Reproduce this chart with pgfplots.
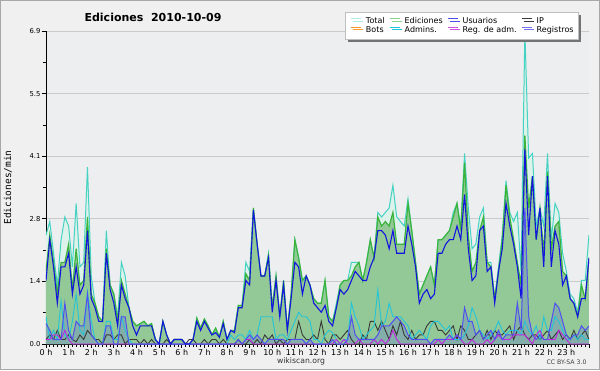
\documentclass[border=0pt]{standalone}
\usepackage{pgfplots}
\pgfplotsset{compat=1.18}
\usepackage{pgfplotstable}
\usepackage{fontspec}
\setmainfont{DejaVu Sans}
\newfontfamily\monofont{DejaVu Sans Mono}
\usetikzlibrary{shadows}
\definecolor{bgcol}{HTML}{F0F0F0}
\definecolor{plotbg}{HTML}{EDEEF0}
\definecolor{framecol}{HTML}{A8A8A8}
\definecolor{gridcol}{HTML}{CACACA}
\definecolor{totcol}{HTML}{44D2C2}
\definecolor{totfill}{HTML}{DCF2EA}
\definecolor{edcol}{HTML}{3CB43C}
\definecolor{edfill}{HTML}{92C996}
\definecolor{usrcol}{HTML}{1414E0}
\definecolor{ipcol}{HTML}{383838}
\definecolor{botcol}{HTML}{FF9A2A}
\definecolor{admcol}{HTML}{22C4DA}
\definecolor{racol}{HTML}{C424E0}
\definecolor{regcol}{HTML}{5050F0}

\pgfplotstableread{
i T E U IP A RA R
0 2.4 1.6 1.4 0.1 0.6 0.1 0.45
1 2.7 2.4 2.3 0.2 0.1 0.1 0.3
2 2.0 1.8 1.7 0.1 0.3 0.2 0.1
3 1.3 1.1 0.9 0.3 0.1 0.2 0.1
4 2.3 1.8 1.7 0.1 0.95 0.1 0.1
5 2.8 1.8 1.7 0.1 0.2 0.3 0.9
6 2.6 2.2 2.0 0.2 0.1 0.1 0.3
7 1.7 1.2 1.1 0.1 0.5 0 0.1
8 3.1 2.1 1.7 0.05 1.1 0 0.5
9 1.7 1.3 1.1 0.2 0.3 0 0.4
10 1.8 1.4 1.3 0.1 0.2 0 0.4
11 3.9 2.8 2.5 0.3 1.15 0 1.1
12 1.5 1.1 1.0 0.2 0.5 0 0.2
13 0.9 0.9 0.8 0.1 0.1 0 0.1
14 0.6 0.6 0.5 0.1 0 0 0
15 0.5 0.5 0.5 0 0 0 0
16 2.5 2.1 2.0 0.2 0.5 0 0.4
17 1.3 1.3 1.2 0.2 0.5 0 0.4
18 1.1 1.1 0.9 0.1 0.1 0 0
19 0.6 0.5 0.4 0.2 0.1 0 0
20 1.8 1.4 1.3 0.2 0.6 0 0.6
21 1.5 1.1 1.0 0 0.3 0 0.6
22 0.8 0.8 0.8 0.1 0.1 0 0
23 0.5 0.5 0.4 0.1 0 0 0
24 0.4 0.4 0.2 0.1 0 0 0
25 0.45 0.45 0.4 0 0 0 0
26 0.5 0.5 0.4 0.1 0 0 0
27 0.4 0.4 0.4 0 0 0 0
28 0.45 0.45 0.4 0.1 0 0 0
29 0.1 0.1 0.1 0 0 0 0
30 0 0 0 0 0 0 0
31 0.5 0.5 0.5 0 0 0 0
32 0.2 0.2 0.2 0.1 0 0 0
33 0 0 0 0 0 0 0
34 0.1 0.1 0.1 0.1 0 0 0
35 0.1 0.1 0.1 0.1 0 0 0
36 0.1 0.1 0.1 0.1 0 0 0
37 0 0 0 0 0 0 0
38 0 0 0 0.1 0 0 0
39 0.1 0.1 0.1 0.1 0 0 0
40 0.57 0.57 0.5 0 0 0 0
41 0.35 0.35 0.3 0 0 0 0
42 0.55 0.55 0.5 0.1 0 0 0
43 0.4 0.4 0.35 0 0 0 0
44 0.2 0.2 0.2 0.1 0 0 0
45 0.35 0.35 0.25 0.1 0 0 0
46 0.15 0.15 0.15 0 0 0 0
47 0.5 0.5 0.45 0.1 0 0 0
48 0.1 0.1 0.1 0 0 0 0
49 0.3 0.3 0.3 0 0.2 0 0
50 0.3 0.3 0.25 0 0.1 0 0
51 0.85 0.85 0.8 0.1 0.2 0 0.1
52 0.85 0.85 0.8 0 0.2 0 0
53 1.8 1.55 1.4 0 0.1 0.1 0.1
54 1.6 1.4 1.3 0.1 0.3 0.1 0.2
55 3.0 3.0 2.95 0 0.1 0 0.1
56 2.2 2.2 2.2 0.1 0.2 0 0.2
57 1.5 1.5 1.5 0 0.6 0 0.1
58 1.5 1.5 1.5 0.2 0.6 0 0
59 2.0 1.95 1.9 0.1 0.6 0 0.1
60 0.8 0.8 0.7 0.2 0.6 0 0.1
61 1.5 1.5 1.4 0 0.1 0 0.1
62 0.6 0.6 0.6 0.1 0.2 0 0.1
63 1.4 1.4 1.3 0 0.2 0 0.1
64 0.3 0.3 0.3 0.1 0.1 0 0
65 1.1 1.1 1.0 0.1 0.3 0 0.1
66 2.3 2.3 1.8 0.1 0.5 0 0.1
67 1.9 1.9 1.7 0.5 0.7 0 0.1
68 1.4 1.4 1.1 0.2 0.6 0 0.1
69 1.5 1.5 1.5 0.1 0.6 0 0
70 1.3 1.3 1.3 0.1 0.5 0 0.1
71 1.0 1.0 0.9 0.2 0.1 0 0
72 0.9 0.9 0.8 0.1 0.1 0 0
73 0.9 0.9 0.7 0.5 0 0 0
74 1.4 1.4 0.85 0.1 0.2 0 0
75 0.6 0.6 0.5 0 0.3 0 0
76 0.5 0.5 0.4 0.2 0.25 0 0.1
77 0.9 0.8 0.8 0.2 0.1 0.1 0
78 1.3 1.3 1.2 0.1 0 0 0
79 1.4 1.4 1.1 0.2 0.1 0.1 0
80 1.4 1.4 1.2 0.3 0.1 0 0.1
81 1.8 1.5 1.4 0.1 0.9 0 0.6
82 1.8 1.7 1.6 0 0.6 0 0.2
83 1.8 1.8 1.5 0 0.4 0.1 0.1
84 1.4 1.4 1.4 0.2 0.1 0 0.1
85 1.8 1.8 1.4 0.1 0.2 0 0.1
86 2.3 2.3 1.7 0.5 0.3 0 0.1
87 1.9 1.9 1.9 0.5 0.4 0.1 0.1
88 2.9 2.8 2.5 0.3 1.2 0 0.2
89 2.8 2.6 2.5 0.5 0.4 0.1 0.4
90 2.9 2.7 2.4 0.3 0.5 0 0.4
91 3.0 2.6 2.1 0.1 0.9 0.1 0.4
92 3.5 2.9 2.5 0.4 0.6 0.3 0.5
93 2.8 2.2 2.0 0.2 0.6 0.1 0.6
94 2.7 2.2 2.0 0.5 0.6 0 0.5
95 2.6 2.2 2.0 0.2 0.5 0 0.4
96 3.2 3.1 2.6 0.1 0.4 0 0.2
97 2.5 2.5 2.2 0.3 0.1 0 0.1
98 1.8 1.8 1.7 0.1 0.2 0 0.1
99 1.1 1.1 0.9 0.2 0.3 0 0.1
100 1.3 1.3 1.1 0.2 0.2 0 0.1
101 1.5 1.5 1.2 0.4 0.1 0 0.1
102 1.7 1.7 1.0 0.5 0.4 0 0
103 1.3 1.3 1.1 0.5 0.5 0 0.1
104 2.3 2.3 2.0 0.3 0.5 0.1 0.1
105 2.3 2.3 2.0 0.3 0.4 0 0.1
106 2.4 2.4 2.2 0.2 0.3 0.1 0.1
107 2.5 2.5 2.3 0.3 0.4 0.1 0.2
108 2.9 2.8 2.3 0.4 0.1 0.1 0.1
109 3.1 3.1 2.6 0.1 0.1 0.2 0.2
110 2.6 2.5 2.3 0.4 0.1 0.1 0.1
111 4.2 4.0 3.3 0.3 0.2 0 0.8
112 3.0 2.4 2.1 0.1 0.4 0 0.5
113 2.1 1.6 1.4 0.1 0.8 0.1 0.5
114 2.2 1.8 1.5 0.2 0.6 0 0.2
115 2.8 2.5 2.5 0.3 0.3 0 0.3
116 3.0 2.8 2.6 0.1 0.2 0 0.1
117 1.8 1.8 1.6 0.3 0.1 0.1 0.2
118 1.8 1.7 1.7 0.1 0.2 0 0.3
119 1.0 1.0 0.9 0.3 0.3 0.1 0.1
120 1.7 1.6 1.6 0.2 0.5 0.2 0.3
121 2.4 2.3 2.1 0.2 0.3 0.1 0.1
122 3.6 3.5 3.1 0.3 0.2 0.1 0.2
123 2.9 2.8 2.6 0.4 0.3 0.1 0.2
124 2.7 2.3 2.2 0.1 0.3 0.2 0.2
125 2.9 1.8 1.7 0.3 0.3 0.2 0.9
126 1.6 1.3 1.0 0.4 0.2 0.2 0.3
127 6.9 4.6 4.3 0.2 0.5 0.2 3.0
128 4.1 3.0 2.4 0.1 0.3 0.1 0.6
129 4.2 3.7 3.7 0.2 0.2 0 0.2
130 2.6 2.3 2.3 0.2 0.4 0.2 0.1
131 3.0 3.0 3.0 0.1 0.1 0.3 0.2
132 2.6 2.0 1.7 0.2 0.6 0.1 0.1
133 4.2 3.8 3.7 0.3 0.3 0.1 0.1
134 2.3 2.1 1.7 0.1 0.3 0.1 0.5
135 3.1 2.6 2.5 0.2 0.6 0.1 0.9
136 2.9 2.7 2.2 0.3 0.5 0.3 0.8
137 2.0 1.6 1.3 0.1 0.3 0.2 0.5
138 1.6 1.5 1.5 0.2 0.1 0.1 0.2
139 1.1 1.0 1.0 0.1 0.1 0 0.1
140 1.0 0.9 0.9 0.3 0.2 0 0.2
141 0.7 0.6 0.6 0.1 0.1 0 0.2
142 1.4 1.3 1.0 0.2 0.2 0 0.4
143 1.4 1.0 1.0 0.3 0.1 0 0.3
144 2.4 1.9 1.9 0.1 0.1 0 0.4
}\data

\begin{document}
\begin{tikzpicture}[x=1pt,y=1pt]
\path[use as bounding box, fill=bgcol] (0,0) rectangle (600,370);
\draw[framecol, line width=1pt] (0.5,0.5) rectangle (599.5,369.5);
\node[font=\fontsize{11}{12}\selectfont\bfseries] at (153,353) {Ediciones\ \ 2010-10-09};
\node[font=\fontsize{7.7}{8}\selectfont, text=black!80] at (301,8.5) {wikiscan.org};
\node[font=\fontsize{6.2}{7}\selectfont, text=black!75, anchor=east] at (590,8) {CC BY-SA 3.0};
\begin{axis}[
  at={(46pt,26pt)}, anchor=south west,
  scale only axis, width=543pt, height=313pt,
  xmin=0, xmax=24, ymin=0, ymax=6.9,
  axis background/.style={fill=plotbg},
  axis x line*=bottom, axis y line*=left,
  axis line style={black, -, line width=0.9pt},
  tick align=outside,
  xtick={0,...,24},
  xticklabels={0 h,1 h,2 h,3 h,4 h,5 h,6 h,7 h,8 h,9 h,10 h,11 h,12 h,13 h,14 h,15 h,16 h,17 h,18 h,19 h,20 h,21 h,22 h,23 h,},
  minor x tick num=5,
  x tick label style={font=\fontsize{8}{9}\selectfont, yshift=2pt},
  ytick={0,1.38,2.76,4.14,5.52,6.9},
  yticklabels={0.0,1.4,2.8,4.1,5.5,6.9},
  minor ytick={0.69,2.07,3.45,4.83,6.21},
  y tick label style={font=\fontsize{6.8}{7}\selectfont, xshift=1.5pt},
  major tick length=3.5pt, minor tick length=3pt,
  every tick/.style={black, line width=0.8pt},
  ymajorgrids, major grid style={gridcol, line width=0.8pt},
  ylabel={\monofont Ediciones/min},
  y label style={at={(axis description cs:-0.070,0.5)}, anchor=center, font=\fontsize{9.5}{10}\selectfont},
  clip=true,
  legend columns=4,
  legend style={at={(axis description cs:0.551,1.061)}, anchor=north west,
    fill=white, draw=gray!50, line width=0.6pt,
    drop shadow={shadow xshift=2.5pt, shadow yshift=-2.5pt, fill=gray!90!black, opacity=1},
    font=\fontsize{8}{8.5}\selectfont, inner xsep=5pt, inner ysep=5pt,
    row sep=0pt, column sep=4.5pt,
    nodes={inner xsep=0pt, inner ysep=0pt, text height=6.5pt, text depth=2pt}},
  legend image code/.code={\draw[#1, line width=1pt] (0pt,2.8pt) -- (10pt,2.8pt);},
  legend cell align=left,
]
\addplot[fill=totfill, draw=none, forget plot] table[x expr=\thisrow{i}/6, y=T] {\data} \closedcycle;
\addplot[fill=edfill, draw=none, forget plot] table[x expr=\thisrow{i}/6, y=E] {\data} \closedcycle;
\addplot[fill=regcol, fill opacity=0.22, draw=none, forget plot] table[x expr=\thisrow{i}/6, y=R] {\data} \closedcycle;
\addplot[totcol, line width=1pt, forget plot] table[x expr=\thisrow{i}/6, y=T] {\data};
\addplot[edcol, line width=1.2pt, forget plot] table[x expr=\thisrow{i}/6, y=E] {\data};
\addplot[ipcol, line width=0.9pt, forget plot] table[x expr=\thisrow{i}/6, y=IP] {\data};
\addplot[admcol, line width=0.9pt, forget plot] table[x expr=\thisrow{i}/6, y=A] {\data};
\addplot[racol, line width=0.9pt, forget plot] table[x expr=\thisrow{i}/6, y=RA] {\data};
\addplot[regcol, line width=1pt, forget plot] table[x expr=\thisrow{i}/6, y=R] {\data};
\addplot[usrcol, line width=1.1pt, forget plot] table[x expr=\thisrow{i}/6, y=U] {\data};
\addlegendimage{totcol!45}\addlegendentry{Total}
\addlegendimage{edcol!60}\addlegendentry{Ediciones}
\addlegendimage{usrcol!75}\addlegendentry{Usuarios}
\addlegendimage{ipcol}\addlegendentry{IP}
\addlegendimage{botcol}\addlegendentry{Bots}
\addlegendimage{admcol}\addlegendentry{Admins.}
\addlegendimage{racol!80}\addlegendentry{Reg. de adm.}
\addlegendimage{regcol!80}\addlegendentry{Registros}
\end{axis}
\end{tikzpicture}
\end{document}
